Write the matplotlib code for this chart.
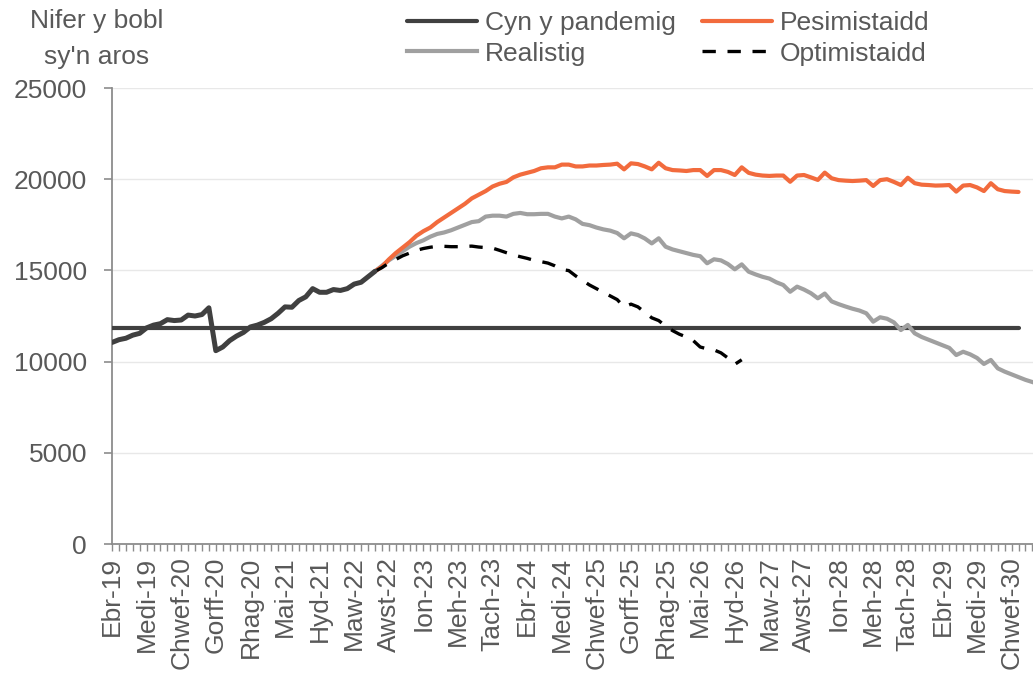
import matplotlib
matplotlib.use("Agg")
import matplotlib.pyplot as plt
import numpy as np

plt.rcParams['font.family'] = ['Liberation Sans', 'DejaVu Sans']

# ---------------- data ----------------
tick_labels = ["Ebr-19", "Medi-19", "Chwef-20", "Gorff-20", "Rhag-20", "Mai-21",
               "Hyd-21", "Maw-22", "Awst-22", "Ion-23", "Meh-23", "Tach-23",
               "Ebr-24", "Medi-24", "Chwef-25", "Gorff-25", "Rhag-25", "Mai-26",
               "Hyd-26", "Maw-27", "Awst-27", "Ion-28", "Meh-28", "Tach-28",
               "Ebr-29", "Medi-29", "Chwef-30"]
label_step = 5  # months between labels

# observed waiting list (Apr-19 onwards, monthly)
actual = [11050, 11200, 11280, 11450, 11550, 11850, 12000, 12080, 12300, 12250,
          12280, 12550, 12500, 12580, 12950, 10600, 10800, 11150, 11400, 11600,
          11900, 12000, 12150, 12350, 12650, 13000, 12980, 13350, 13550, 14000,
          13800, 13800, 13950, 13900, 14000, 14250, 14350, 14650, 14950]

proj_start = 38  # month index where scenarios start

pessimistic = [14950, 15200, 15600, 15950, 16250, 16550, 16900, 17150, 17350, 17650,
               17900, 18150, 18400, 18650, 18950, 19150, 19350, 19600, 19750, 19850,
               20100, 20250, 20350, 20450, 20600, 20650, 20650, 20800, 20800, 20700,
               20700, 20750, 20750, 20780, 20800, 20850, 20540, 20870, 20830, 20700,
               20540, 20900, 20600, 20500, 20480, 20450, 20500, 20500, 20180, 20500,
               20500, 20400, 20230, 20650, 20350, 20250, 20200, 20180, 20200, 20200,
               19860, 20200, 20230, 20100, 19960, 20360, 20050, 19950, 19920, 19900,
               19920, 19950, 19630, 19950, 20000, 19850, 19680, 20080, 19780, 19700,
               19680, 19650, 19660, 19680, 19320, 19650, 19680, 19550, 19350, 19780,
               19450, 19350, 19320, 19300]

realistic = [14950, 15250, 15550, 15800, 16050, 16300, 16500, 16650, 16850, 17000,
             17080, 17200, 17350, 17500, 17650, 17700, 17950, 18000, 18000, 17950,
             18100, 18150, 18080, 18080, 18100, 18100, 17950, 17850, 17950, 17800,
             17550, 17480, 17350, 17250, 17180, 17050, 16760, 17030, 16940, 16750,
             16480, 16760, 16300, 16150, 16050, 15950, 15850, 15780, 15390, 15610,
             15550, 15350, 15060, 15330, 14930, 14780, 14650, 14550, 14350, 14200,
             13830, 14110, 13950, 13750, 13470, 13730, 13300, 13150, 13020, 12900,
             12800, 12650, 12190, 12430, 12350, 12150, 11730, 12010, 11550, 11350,
             11200, 11050, 10900, 10750, 10360, 10540, 10400, 10200, 9870, 10090,
             9630, 9450, 9300, 9150, 9000, 8880, 8750]

optimistic = [14950, 15150, 15400, 15600, 15800, 15950, 16100, 16200, 16270, 16320,
              16320, 16300, 16300, 16320, 16330, 16280, 16250, 16220, 16100, 15970,
              15850, 15750, 15660, 15550, 15480, 15400, 15250, 15050, 14990, 14700,
              14450, 14200, 14000, 13800, 13600, 13400, 13000, 13150, 13000, 12700,
              12400, 12250, 11950, 11700, 11500, 11350, 11150, 10800, 10700, 10640,
              10480, 10200, 9850, 10100]

pre_pandemic = 11850
pre_pandemic_end = 131  # last month index of the reference line

y_ticks = [0, 5000, 10000, 15000, 20000, 25000]

# ---------------- figure ----------------
W, H = 1033, 673
fig = plt.figure(figsize=(W / 100, H / 100), dpi=100)
ax = fig.add_axes([112 / W, 1 - 544 / H, 1 - 112 / W, (544 - 88) / H])

FS = 19
text_col = "#595959"
c_pre = "#404040"
c_act = "#404040"
c_pess = "#F26B3D"
c_real = "#A0A0A0"
c_opt = "#000000"

x_act = np.arange(len(actual))
x_pess = proj_start + np.arange(len(pessimistic))
x_real = proj_start + np.arange(len(realistic))
x_opt = proj_start + np.arange(len(optimistic))

l_pre, = ax.plot([0, pre_pandemic_end], [pre_pandemic, pre_pandemic], color=c_pre,
                 lw=3.0, solid_capstyle='round', label="Cyn y pandemig", zorder=3)
l_real, = ax.plot(x_real, realistic, color=c_real, lw=3.0, label="Realistig",
                  solid_joinstyle='round', zorder=4)
l_pess, = ax.plot(x_pess, pessimistic, color=c_pess, lw=3.0, label="Pesimistaidd",
                  solid_joinstyle='round', solid_capstyle='round', zorder=5)
l_opt, = ax.plot(x_opt, optimistic, color=c_opt, lw=2.4, ls=(0, (4, 3.5)),
                 label="Optimistaidd", zorder=6)
ax.plot(x_act, actual, color=c_act, lw=3.6, solid_joinstyle='round',
        solid_capstyle='round', zorder=7)

ax.set_xlim(0, (W - 112) / 6.92)
ax.set_ylim(0, 25000)

ax.set_yticks(y_ticks)
ax.set_yticklabels([str(v) for v in y_ticks])
ax.set_xticks(np.arange(0, label_step * len(tick_labels), label_step))
ax.set_xticklabels(tick_labels, rotation=90)
ax.set_xticks(np.arange(0, 134), minor=True)

ax.grid(axis='y', color="#E8E8E8", lw=1.0, zorder=0)
ax.set_axisbelow(True)

for s in ['top', 'right']:
    ax.spines[s].set_visible(False)
for s in ['left', 'bottom']:
    ax.spines[s].set_color("#8C8C8C")
    ax.spines[s].set_linewidth(1.3)

ax.tick_params(axis='y', which='major', length=6, width=1.2, color="#8C8C8C",
               labelsize=FS, labelcolor=text_col, pad=12)
ax.tick_params(axis='x', which='major', length=5, width=1.0, color="#8C8C8C",
               labelsize=FS, labelcolor=text_col, pad=4)
ax.tick_params(axis='x', which='minor', length=5, width=1.0, color="#8C8C8C")

fig.text(97 / W, 1 - 39 / H, "Nifer y bobl\nsy'n aros", ha='center', va='center',
         fontsize=FS, color=text_col, linespacing=1.65)

leg = fig.legend(handles=[l_pre, l_real, l_pess, l_opt], ncol=2,
                 loc='upper left', bbox_to_anchor=(407 / W, 1 - 11 / H),
                 frameon=False, fontsize=FS, handlelength=2.65, handletextpad=0.3,
                 columnspacing=0.98, labelspacing=0.25, borderpad=0, borderaxespad=0)
for t in leg.get_texts():
    t.set_color(text_col)

fig.savefig("out.png", dpi=100)
